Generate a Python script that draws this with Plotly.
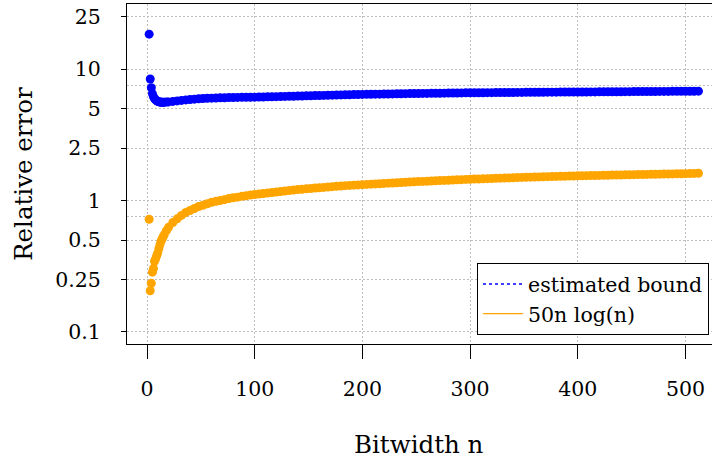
import plotly.graph_objects as go

# ---- data ----
n_vals = [2, 3, 4, 5, 6, 7, 8, 9, 10, 11, 12, 13, 14, 15, 16, 18,
          20, 24, 28, 32, 36, 40, 44, 48, 52, 56, 60, 64, 68, 72, 76, 80,
          84, 88, 92, 96, 100, 104, 108, 112, 116, 120, 124, 128, 132, 136, 140, 144,
          148, 152, 156, 160, 164, 168, 172, 176, 180, 184, 188, 192, 196, 200, 204, 208,
          212, 216, 220, 224, 228, 232, 236, 240, 244, 248, 252, 256, 260, 264, 268, 272,
          276, 280, 284, 288, 292, 296, 300, 304, 308, 312, 316, 320, 324, 328, 332, 336,
          340, 344, 348, 352, 356, 360, 364, 368, 372, 376, 380, 384, 388, 392, 396, 400,
          404, 408, 412, 416, 420, 424, 428, 432, 436, 440, 444, 448, 452, 456, 460, 464,
          468, 472, 476, 480, 484, 488, 492, 496, 500, 504, 508, 512]

estimated_bound = [18.4, 8.4, 7.2, 6.5, 6.15, 5.95, 5.82, 5.73, 5.67, 5.63, 5.60, 5.59, 5.58, 5.58, 5.58, 5.60,
                   5.62, 5.67, 5.72, 5.77, 5.82, 5.86, 5.90, 5.94, 5.96, 5.98, 6.00, 6.02, 6.035, 6.045, 6.06, 6.07,
                   6.08, 6.09, 6.095, 6.10, 6.11, 6.12, 6.13, 6.14, 6.15, 6.16, 6.17, 6.185, 6.195, 6.21, 6.22, 6.235,
                   6.25, 6.26, 6.275, 6.29, 6.30, 6.315, 6.325, 6.34, 6.35, 6.36, 6.375, 6.385, 6.40, 6.41, 6.42, 6.43,
                   6.435, 6.44, 6.45, 6.46, 6.465, 6.475, 6.48, 6.49, 6.50, 6.505, 6.51, 6.52, 6.525, 6.53, 6.535, 6.545,
                   6.55, 6.56, 6.565, 6.575, 6.58, 6.585, 6.59, 6.595, 6.60, 6.603, 6.607, 6.61, 6.615, 6.62, 6.623, 6.627,
                   6.63, 6.635, 6.638, 6.642, 6.646, 6.65, 6.654, 6.658, 6.662, 6.666, 6.67, 6.672, 6.674, 6.676, 6.678, 6.68,
                   6.684, 6.688, 6.692, 6.696, 6.70, 6.704, 6.708, 6.712, 6.716, 6.72, 6.724, 6.728, 6.731, 6.735, 6.738, 6.741,
                   6.745, 6.748, 6.751, 6.754, 6.757, 6.760, 6.763, 6.767, 6.77, 6.773, 6.776, 6.78]

nlogn_bound = [0.72, 0.206, 0.235, 0.285, 0.305, 0.345, 0.36, 0.38, 0.40, 0.43, 0.46, 0.49, 0.51, 0.53, 0.55, 0.59,
               0.625, 0.68, 0.725, 0.77, 0.81, 0.84, 0.87, 0.90, 0.92, 0.945, 0.97, 0.985, 1.00, 1.015, 1.035, 1.05,
               1.06, 1.075, 1.085, 1.10, 1.11, 1.12, 1.13, 1.14, 1.15, 1.16, 1.17, 1.18, 1.19, 1.20, 1.21, 1.218,
               1.226, 1.234, 1.242, 1.25, 1.258, 1.266, 1.274, 1.282, 1.29, 1.296, 1.302, 1.308, 1.314, 1.32, 1.326, 1.331,
               1.337, 1.342, 1.348, 1.354, 1.359, 1.365, 1.370, 1.376, 1.381, 1.387, 1.392, 1.397, 1.402, 1.407, 1.412, 1.417,
               1.422, 1.426, 1.431, 1.436, 1.441, 1.446, 1.45, 1.454, 1.458, 1.462, 1.466, 1.47, 1.474, 1.478, 1.482, 1.486,
               1.49, 1.494, 1.498, 1.502, 1.505, 1.508, 1.511, 1.515, 1.518, 1.521, 1.524, 1.527, 1.530, 1.534, 1.537, 1.54,
               1.542, 1.545, 1.547, 1.550, 1.552, 1.555, 1.557, 1.560, 1.562, 1.564, 1.567, 1.569, 1.572, 1.574, 1.576, 1.579,
               1.581, 1.584, 1.586, 1.588, 1.591, 1.593, 1.596, 1.598, 1.60, 1.604, 1.607, 1.61]

series_names = ["estimated bound", "50n log(n)"]
y_tick_vals = [0.1, 0.25, 0.5, 1, 2.5, 5, 10, 25]
y_tick_text = ["0.1", "0.25", "0.5", "1", "2.5", "5", "10", "25"]
y_extra_grid = [0.75, 7.5]
x_tick_vals = [0, 100, 200, 300, 400, 500]
x_tick_text = ["0", "100", "200", "300", "400", "500"]

BLUE = "#0000FF"
ORANGE = "#FFA500"
GRID = "#bebebe"
FONT = "DejaVu Serif"

fig = go.Figure()
fig.add_trace(go.Scatter(x=n_vals, y=estimated_bound, mode="markers",
                         marker=dict(color=BLUE, size=9, line=dict(width=0)),
                         showlegend=False, hoverinfo="skip"))
fig.add_trace(go.Scatter(x=n_vals, y=nlogn_bound, mode="markers",
                         marker=dict(color=ORANGE, size=9, line=dict(width=0)),
                         showlegend=False, hoverinfo="skip"))
# legend entries (line samples as in the reference)
fig.add_trace(go.Scatter(x=[None], y=[None], mode="lines", name=series_names[0],
                         line=dict(color=BLUE, dash="dot", width=1.5)))
fig.add_trace(go.Scatter(x=[None], y=[None], mode="lines", name=series_names[1],
                         line=dict(color=ORANGE, width=1.2)))

fig.update_layout(
    width=712, height=465,
    margin=dict(l=127, r=0, t=4, b=121, pad=0),
    paper_bgcolor="white", plot_bgcolor="white",
    font=dict(family=FONT, color="black", size=20.5),
    xaxis=dict(range=[-18.57, 524.6], tickvals=x_tick_vals, ticktext=x_tick_text,
               showline=True, linecolor="black", linewidth=1, mirror=True,
               ticks="outside", ticklen=14, tickcolor="black", tickwidth=1,
               showgrid=True, gridcolor=GRID, gridwidth=1, griddash="2px,2px",
               zeroline=False, tickfont=dict(family=FONT, size=20.5),
               ticklabelstandoff=12),
    yaxis=dict(type="log", range=[-1.0913, 1.4943], tickvals=y_tick_vals, ticktext=y_tick_text,
               showline=True, linecolor="black", linewidth=1, mirror=False,
               ticks="outside", ticklen=5, tickcolor="black", tickwidth=1,
               showgrid=True, gridcolor=GRID, gridwidth=1, griddash="2px,2px",
               minor=dict(tickvals=y_extra_grid, showgrid=True, gridcolor=GRID,
                          gridwidth=1, griddash="2px,2px", ticks=""),
               zeroline=False, tickfont=dict(family=FONT, size=20.5),
               ticklabelstandoff=16),
    legend=dict(x=0.9949, xanchor="right", y=0.026, yanchor="bottom",
                bgcolor="white", bordercolor="black", borderwidth=1,
                font=dict(family=FONT, size=20.5), itemwidth=40,
                tracegroupgap=0),
    annotations=[
        dict(text="Relative error", xref="paper", yref="paper", x=-0.178, y=0.5,
             xanchor="center", yanchor="middle", textangle=-90, showarrow=False,
             font=dict(family=FONT, size=24.5)),
        dict(text="Bitwidth n", xref="paper", yref="paper", x=0.499, y=-0.297,
             xanchor="center", yanchor="middle", showarrow=False,
             font=dict(family=FONT, size=24.5)),
    ],
)

fig.write_html("out.html", config={"displayModeBar": False},
               post_script="document.body.style.margin='0';document.body.style.overflow='hidden';")
